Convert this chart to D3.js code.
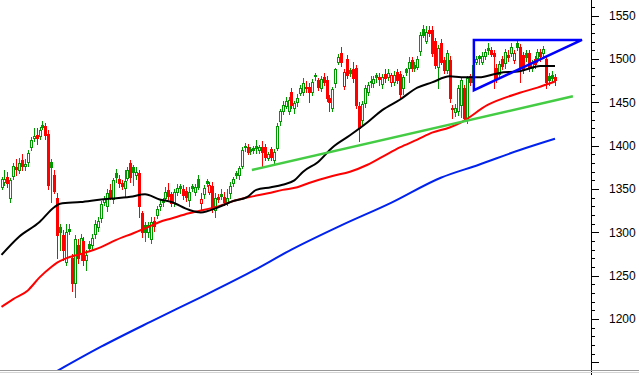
<!DOCTYPE html>
<html>
<head>
<meta charset="utf-8">
<script src="https://cdn.jsdelivr.net/npm/d3@7"></script>
<style>
body { margin: 0; background: #fff; }
svg { display: block; }
</style>
</head>
<body>
<div id="chart"></div>
<script>
// Daily candles (open / high / low / close)
var opens = [
  1352,1358,1364,1340,1365,1375,1372,1383,1376,1381,
  1399,1409,1412,1411,1424,1423,1414,1381,1366,1340,
  1306,1297,1266,1304,1270,1241,1285,1275,1290,1268,
  1286,1285,1298,1306,1316,1335,1330,1349,1338,1369,
  1362,1357,1351,1363,1380,1375,1366,1368,1322,1308,
  1300,1292,1313,1320,1330,1337,1340,1349,1344,1334,
  1347,1353,1350,1348,1337,1353,1347,1362,1334,1344,
  1359,1347,1354,1326,1341,1344,1341,1335,1345,1357,
  1369,1366,1377,1400,1398,1396,1397,1400,1395,1399,
  1398,1386,1396,1384,1397,1428,1440,1446,1440,1462,
  1443,1450,1461,1462,1468,1468,1462,1482,1476,1467,
  1479,1476,1455,1444,1472,1497,1507,1469,1500,1487,
  1489,1490,1446,1430,1449,1462,1475,1472,1481,1479,
  1471,1483,1479,1473,1474,1485,1483,1467,1488,1490,
  1499,1493,1491,1509,1535,1521,1534,1534,1521,1491,
  1519,1499,1487,1499,1443,1439,1440,1447,1466,1430,
  1480,1473,1497,1503,1497,1503,1513,1510,1507,1490,
  1483,1500,1495,1505,1507,1499,1519,1514,1505,1507,
  1507,1490,1500,1501,1508,1507,1500,1480,1481,1479
];
var highs = [
  1364,1372,1370,1363,1380,1385,1386,1390,1385,1395,
  1410,1420,1420,1422,1428,1426,1418,1385,1372,1345,
  1310,1303,1310,1310,1275,1297,1292,1298,1295,1280,
  1290,1298,1314,1318,1336,1342,1350,1356,1363,1373,
  1366,1360,1372,1375,1383,1378,1375,1372,1325,1312,
  1312,1318,1318,1330,1338,1340,1352,1357,1347,1350,
  1356,1356,1355,1352,1352,1356,1356,1366,1345,1355,
  1362,1358,1358,1345,1344,1350,1346,1350,1358,1364,
  1371,1376,1398,1403,1402,1399,1400,1406,1401,1405,
  1402,1393,1398,1396,1426,1442,1452,1456,1456,1466,
  1452,1460,1470,1478,1475,1472,1477,1484,1478,1480,
  1484,1480,1458,1468,1490,1506,1514,1488,1505,1490,
  1496,1493,1450,1452,1470,1474,1480,1480,1484,1484,
  1483,1488,1489,1484,1486,1488,1486,1482,1490,1502,
  1502,1496,1503,1531,1539,1538,1538,1538,1524,1516,
  1523,1502,1510,1503,1447,1448,1470,1478,1470,1480,
  1483,1496,1503,1505,1508,1512,1518,1514,1510,1494,
  1498,1503,1512,1510,1518,1510,1523,1517,1508,1510,
  1510,1499,1503,1512,1512,1515,1503,1484,1486,1483
];
var lows = [
  1350,1355,1352,1335,1362,1366,1368,1372,1372,1376,
  1395,1405,1402,1408,1419,1408,1350,1335,1345,1270,
  1280,1268,1262,1298,1232,1225,1265,1268,1262,1256,
  1278,1280,1294,1302,1312,1332,1325,1338,1334,1358,
  1352,1350,1341,1360,1358,1355,1362,1318,1295,1290,
  1295,1288,1302,1316,1326,1330,1338,1338,1330,1330,
  1343,1345,1338,1336,1330,1348,1343,1350,1326,1340,
  1353,1344,1324,1318,1335,1339,1332,1332,1340,1354,
  1363,1362,1374,1394,1390,1390,1392,1392,1392,1376,
  1383,1383,1383,1380,1395,1424,1437,1443,1436,1443,
  1438,1446,1458,1458,1462,1450,1458,1476,1464,1463,
  1470,1452,1440,1440,1468,1494,1492,1465,1478,1480,
  1474,1443,1405,1425,1445,1458,1468,1468,1474,1470,
  1466,1474,1476,1469,1470,1472,1456,1460,1482,1473,
  1486,1486,1488,1505,1525,1518,1526,1503,1490,1466,
  1494,1484,1484,1450,1432,1434,1435,1433,1430,1426,
  1470,1470,1494,1494,1494,1500,1506,1503,1466,1474,
  1480,1488,1490,1498,1503,1495,1510,1473,1484,1498,
  1486,1486,1490,1497,1498,1504,1466,1470,1474,1470
];
var closes = [
  1361,1362,1357,1360,1376,1373,1380,1377,1379,1391,
  1407,1411,1409,1418,1422,1412,1355,1375,1348,1297,
  1300,1280,1300,1302,1241,1292,1270,1293,1268,1274,
  1282,1294,1310,1313,1333,1338,1345,1341,1360,1364,
  1357,1354,1359,1372,1364,1370,1370,1330,1300,1300,
  1309,1312,1307,1327,1333,1335,1346,1342,1334,1346,
  1351,1351,1343,1341,1347,1351,1352,1352,1338,1351,
  1357,1355,1328,1340,1338,1342,1335,1340,1354,1361,
  1366,1374,1395,1398,1393,1394,1395,1397,1398,1393,
  1387,1390,1387,1393,1423,1440,1447,1452,1453,1447,
  1449,1455,1467,1472,1466,1462,1473,1480,1468,1477,
  1473,1455,1450,1465,1488,1502,1496,1485,1482,1484,
  1478,1447,1420,1448,1467,1470,1473,1477,1479,1477,
  1479,1478,1484,1481,1482,1476,1460,1479,1485,1496,
  1490,1490,1500,1528,1528,1531,1530,1507,1493,1513,
  1497,1487,1507,1455,1442,1444,1466,1476,1432,1478,
  1474,1493,1500,1501,1504,1508,1510,1506,1503,1478,
  1494,1492,1508,1502,1514,1507,1514,1491,1488,1502,
  1490,1495,1494,1508,1503,1511,1473,1476,1478,1476
];

// Moving averages as [candle index, value]
var ma50 = [[0,1274],[6,1295],[13,1312],[18,1329],[20,1333],[27,1335],[34,1338],[44,1341],
  [49,1344],[54,1338],[58,1335],[64,1326],[68,1323],[74,1329],[79,1336],[84,1341],[87,1349],
  [92,1352],[96,1355],[100,1360],[103,1370],[108,1381],[113,1398],[119,1412],[125,1427],
  [130,1441],[136,1453],[142,1467],[147,1473],[153,1480],[157,1479],[163,1479],[170,1484],
  [177,1486],[184,1492],[189,1492]];
var ma100 = [[0,1214],[4,1223],[9,1233],[13,1248],[17,1260],[19,1265],[22,1270],[27,1275],
  [34,1283],[39,1291],[45,1299],[50,1306],[54,1312],[58,1316],[64,1322],[74,1330],[80,1337],
  [85,1341],[91,1345],[96,1349],[101,1352],[105,1357],[113,1365],[119,1370],[125,1378],
  [130,1387],[136,1398],[142,1407],[147,1415],[153,1421],[157,1427],[166,1447],[177,1461],
  [183,1467],[189,1474]];
var ma200 = [[19,1140],[34,1168],[51,1197],[68,1225],[85,1254],[99,1280],[116,1308],
  [133,1334],[150,1363],[163,1378],[177,1395],[189,1408]];

// Hand drawn trend line and triangle
var trendLine = [[85.5,1372],[195.1,1457]];
var triangle = [[161.3,1522],[198.2,1522],[161.3,1464]];

var tickLabels = [1200,1250,1300,1350,1400,1450,1500,1550];
var majorTicks = [1150,1200,1250,1300,1350,1400,1450,1500,1550];

var svgWidth = 639;
var svgHeight = 375;
var axisX = 591;
var plotBottom = 370;

var svg = d3.select("#chart")
  .append("svg")
  .attr("width", svgWidth)
  .attr("height", svgHeight)
  .style("font-family", "'Liberation Sans', Arial, sans-serif");

svg.append("defs").append("clipPath")
  .attr("id", "plot")
  .append("rect")
  .attr("x", 0).attr("y", 0)
  .attr("width", axisX).attr("height", plotBottom);

var n = opens.length;
var xScale = d3.scaleLinear().domain([0, n - 1]).range([1.5, 555]);
var yScale = d3.scaleLinear().domain([1200, 1550]).range([319, 15.7]);

var candles = opens.map(function(o, i) {
  return { i: i, o: o, h: highs[i], l: lows[i], c: closes[i], prev: i > 0 ? closes[i - 1] : o };
});

var green = "#009900";
var red = "#ff0000";

var plot = svg.append("g").attr("clip-path", "url(#plot)");

// candles
var cg = plot.append("g").attr("shape-rendering", "crispEdges");
var candle = cg.selectAll("g")
  .data(candles)
  .enter()
  .append("g")
  .attr("transform", function(d) { return "translate(" + Math.round(xScale(d.i)) + ",0)"; });

function col(d) { return d.c >= d.prev ? green : red; }

candle.append("line")
  .attr("x1", 0.5).attr("x2", 0.5)
  .attr("y1", function(d) { return Math.round(yScale(Math.max(d.h, d.o, d.c))); })
  .attr("y2", function(d) { return Math.round(yScale(Math.min(d.l, d.o, d.c))) + 1; })
  .attr("stroke", col)
  .attr("stroke-width", 1);

candle.append("rect")
  .attr("x", -0.5)
  .attr("width", 2)
  .attr("y", function(d) { return Math.round(yScale(Math.max(d.o, d.c))) + 0.5; })
  .attr("height", function(d) {
    return Math.max(1, Math.round(yScale(Math.min(d.o, d.c))) - Math.round(yScale(Math.max(d.o, d.c))));
  })
  .attr("fill", function(d) { return d.c > d.o ? "#fff" : col(d); })
  .attr("stroke", col)
  .attr("stroke-width", 1);

// moving averages
var maLine = d3.line()
  .x(function(d) { return xScale(d[0]); })
  .y(function(d) { return yScale(d[1]); })
  .curve(d3.curveMonotoneX);

plot.append("path").datum(ma200)
  .attr("d", maLine).attr("fill", "none")
  .attr("stroke", "#0022ee").attr("stroke-width", 2);
plot.append("path").datum(ma100)
  .attr("d", maLine).attr("fill", "none")
  .attr("stroke", "#ff0000").attr("stroke-width", 2);
plot.append("path").datum(ma50)
  .attr("d", maLine).attr("fill", "none")
  .attr("stroke", "#000").attr("stroke-width", 2);

// trend line + triangle
var straight = d3.line()
  .x(function(d) { return xScale(d[0]); })
  .y(function(d) { return yScale(d[1]); });

svg.append("path").datum(trendLine)
  .attr("d", straight).attr("fill", "none")
  .attr("stroke", "#44cc44").attr("stroke-width", 2.5);

svg.append("path").datum(triangle)
  .attr("d", function(d) { return straight(d) + "Z"; })
  .attr("fill", "none")
  .attr("stroke", "#0000ff").attr("stroke-width", 2.5);

// right axis
var minor = svg.append("g")
  .attr("transform", "translate(" + axisX + ",0)")
  .call(d3.axisRight(yScale).tickValues(d3.range(1150, 1571, 10)).tickSize(4).tickFormat(""));
minor.select(".domain").remove();

var major = svg.append("g")
  .attr("transform", "translate(" + axisX + ",0)")
  .call(d3.axisRight(yScale).tickValues(majorTicks).tickSize(8).tickPadding(10)
    .tickFormat(function(d) { return tickLabels.indexOf(d) >= 0 ? d : ""; }));
major.select(".domain").remove();
major.selectAll("text")
  .attr("font-size", "12px")
  .attr("font-family", "'Liberation Sans', Arial, sans-serif")
  .attr("fill", "#000");

svg.selectAll(".tick line").attr("stroke", "#000").attr("shape-rendering", "crispEdges");

svg.append("line")
  .attr("x1", axisX + 0.5).attr("x2", axisX + 0.5)
  .attr("y1", 0).attr("y2", svgHeight)
  .attr("stroke", "#000").attr("shape-rendering", "crispEdges");

// bottom border
svg.append("line")
  .attr("x1", 0).attr("x2", svgWidth)
  .attr("y1", plotBottom + 0.5).attr("y2", plotBottom + 0.5)
  .attr("stroke", "#9a9a9a").attr("shape-rendering", "crispEdges");
svg.append("line")
  .attr("x1", 0).attr("x2", svgWidth)
  .attr("y1", plotBottom + 2.5).attr("y2", plotBottom + 2.5)
  .attr("stroke", "#d4d4d4").attr("shape-rendering", "crispEdges");
</script>
</body>
</html>
